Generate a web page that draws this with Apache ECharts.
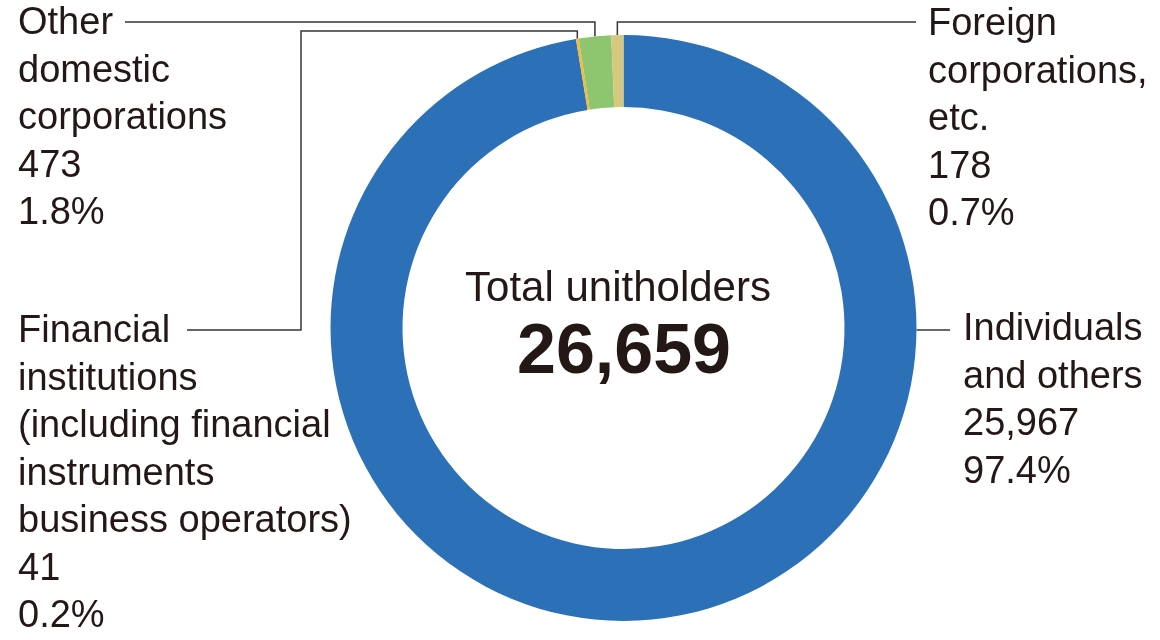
<!DOCTYPE html>
<html><head><meta charset="utf-8">
<script src="https://cdn.jsdelivr.net/npm/echarts@6/dist/echarts.min.js"></script>
<style>html,body{margin:0;padding:0;background:#fff}#c{width:1160px;height:640px}</style>
</head><body><div id="c"></div>
<script>
// ---- data ----
const categories = [
  'Individuals\nand others',
  'Financial\ninstitutions\n(including financial\ninstruments\nbusiness operators)',
  'Other\ndomestic\ncorporations',
  'Foreign\ncorporations,\netc.'
];
const holders = [25967, 41, 473, 178];
const sliceColors = ['#2c71b8', '#f6b93b', '#8dc66e', '#d6c880'];
const centerTitle = 'Total unitholders';

// ---- layout constants ----
const CX = 623.5, CY = 328, R0 = 221, R = 293;
const FONT = '"Liberation Sans", Arial, sans-serif';
const TEXT = '#231815';
const LINE = '#3a3535';
const LH = 47.5;
const total = holders.reduce((a, b) => a + b, 0);

// label first-line centre positions
const labelPlace = [
  { x: 963, y: 330 },
  { x: 18, y: 332 },
  { x: 18, y: 24 },
  { x: 928, y: 25 }
];

function midPoint(i) {
  let cum = 0;
  for (let k = 0; k < i; k++) cum += holders[k];
  const a = (cum + holders[i] / 2) / total * Math.PI * 2;
  return [CX + R * Math.sin(a), CY - R * Math.cos(a)];
}

function leader(i) {
  if (i === 0) {
    const y = 330;
    const x = CX + Math.sqrt(R * R - (y - CY) * (y - CY));
    return [[x, y], [950, y]];
  }
  const p = midPoint(i);
  if (i === 1) {
    return [[187, 330], [301, 330], [301, 31], [p[0], 31], p];
  }
  if (i === 2) {
    return [[125, 22], [p[0], 22], p];
  }
  return [[916, 22], [p[0], 22], p];
}

const chart = echarts.init(document.getElementById('c'), null, { renderer: 'canvas' });
chart.setOption({
  animation: false,
  backgroundColor: '#fff',
  color: sliceColors,
  graphic: [
    { type: 'text', x: 618, y: 289,
      style: { text: centerTitle, fill: TEXT, font: '42px ' + FONT, align: 'center', verticalAlign: 'middle' } },
    { type: 'text', x: 624, y: 354,
      style: { text: total.toLocaleString('en-US'), fill: TEXT, font: 'bold 70px ' + FONT, align: 'center', verticalAlign: 'middle' } }
  ],
  series: [{
    type: 'pie',
    center: [CX, CY],
    radius: [R0, R],
    startAngle: 90,
    clockwise: true,
    avoidLabelOverlap: false,
    silent: true,
    data: categories.map((n, i) => ({ name: n, value: holders[i] })),
    label: {
      show: true,
      position: 'outside',
      color: TEXT,
      fontSize: 38,
      fontFamily: FONT,
      lineHeight: LH,
      formatter: p => p.name + '\n' + p.value.toLocaleString('en-US') + '\n' + (p.value / total * 100).toFixed(1) + '%'
    },
    labelLine: { show: true, length: 10, length2: 10, lineStyle: { color: LINE, width: 1.5 } },
    labelLayout: function (params) {
      const i = params.dataIndex;
      const pl = labelPlace[i];
      return {
        x: pl.x,
        y: pl.y - LH / 2,
        align: 'left',
        verticalAlign: 'top',
        labelLinePoints: leader(i)
      };
    }
  }]
});
</script>
</body></html>
